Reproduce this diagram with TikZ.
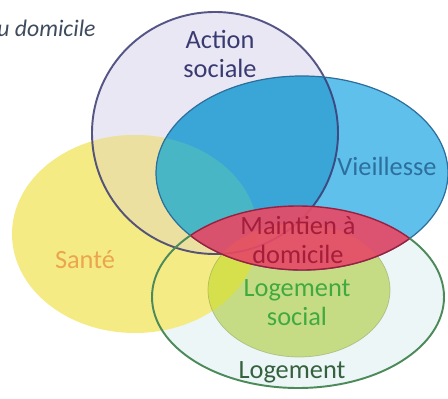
\documentclass[tikz,border=0pt]{standalone}
\usepackage{fontspec}
\setmainfont{Carlito}
\usetikzlibrary{positioning}
\definecolor{actfill}{HTML}{E9E7F3}
\definecolor{actline}{HTML}{3A3A72}
\definecolor{santefill}{HTML}{F5EB85}
\definecolor{santeact}{HTML}{ECE0A0}
\definecolor{santetext}{HTML}{EBA54E}
\definecolor{vieilfill}{HTML}{5FC0EC}
\definecolor{vieilact}{HTML}{3AA6D8}
\definecolor{vieilsante}{HTML}{48B6C4}
\definecolor{vieilline}{HTML}{2D6F9C}
\definecolor{logfill}{HTML}{ECF6F6}
\definecolor{logline}{HTML}{4C8A5A}
\definecolor{lsfill}{HTML}{C6DC84}
\definecolor{lssante}{HTML}{D6E04C}
\definecolor{madfill}{HTML}{E64A66}
\definecolor{madline}{HTML}{9A2040}
\definecolor{titlegray}{HTML}{3E4C5E}
% one path per set
\newcommand{\setaction}{(215,133) ellipse [x radius=123, y radius=121]}
\newcommand{\setsante}{(135,234) ellipse [x radius=123, y radius=99]}
\newcommand{\setvieil}{(302,173) ellipse [x radius=146, y radius=97]}
\newcommand{\setlog}{(298,297) ellipse [x radius=146, y radius=91]}
\newcommand{\setlogsoc}{(299,290) ellipse [x radius=91, y radius=67]}

\begin{document}
\begin{tikzpicture}[x=0.02cm,y=-0.02cm]
\tikzset{lbl/.style={font=\fontsize{15}{16.5}\selectfont,align=center,inner sep=0pt}}
\useasboundingbox (0,0) rectangle (448,398);
% fills
\fill[logfill] \setlog;
\fill[actfill] \setaction;
\fill[santefill] \setsante;
\begin{scope}
  \clip \setsante;
  \fill[santeact] \setaction;
\end{scope}
\fill[vieilfill] \setvieil;
\begin{scope}
  \clip \setvieil;
  \fill[vieilact] \setaction;
  \fill[vieilsante] \setsante;
\end{scope}
\fill[lsfill] \setlogsoc;
\begin{scope}
  \clip \setlogsoc;
  \fill[lssante] \setsante;
\end{scope}
% outlines
\draw[actline,line width=1.1pt,draw opacity=0.85] \setaction;
\draw[vieilline,line width=0.7pt] \setvieil;
\draw[lsfill!70!black,line width=0.4pt,draw opacity=0.5] \setlogsoc;
% maintien a domicile = vieillesse and logement
\begin{scope}
  \clip \setvieil;
  \fill[madfill,fill opacity=0.92] \setlog;
  \draw[madline,line width=0.8pt] \setlog;
\end{scope}
\begin{scope}
  \clip \setlog;
  \draw[madline,line width=0.8pt] \setvieil;
\end{scope}
\begin{scope}[even odd rule]
  \clip (0,0) rectangle (448,398) \setvieil;
  \draw[logline,line width=1.1pt] \setlog;
\end{scope}
% labels
\node[lbl,text=actline] (act) at (220,54) {Action\\sociale};
\node[lbl,text=vieilline] (vieil) at (387,166) {Vieillesse};
\node[lbl,text=santetext] (sante) at (85,260) {Santé};
\node[lbl,text=madline!90!red] (mad) at (298,240) {Maintien à\\domicile};
\node[lbl,text=green!55!black!75] (logsoc) at (297,303) {Logement\\social};
\node[lbl,text=logline!70!black] (logt) at (292,372) {Logement};
\node[font=\fontsize{13.5}{15}\selectfont\itshape,text=titlegray,anchor=base west,inner sep=0pt] (title) at (-3,37) {u domicile};
\end{tikzpicture}
\end{document}
